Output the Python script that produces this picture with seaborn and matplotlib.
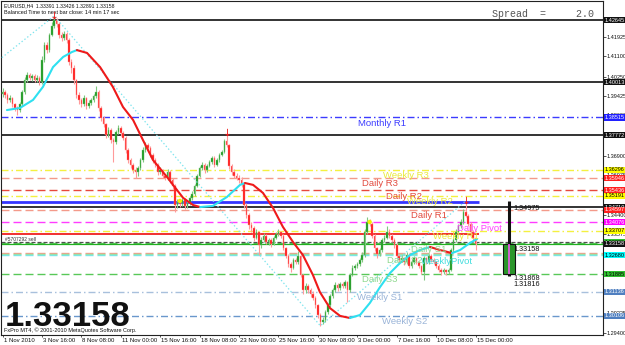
import matplotlib
matplotlib.use("Agg")
import matplotlib.pyplot as plt
import matplotlib.transforms as mtrans
from matplotlib import font_manager
import pandas as pd
import seaborn as sns

# ---------------- data (EURUSD H4, 1 Nov - 15 Dec 2010) ----------------
FIRST_OPEN = 1.3950
closes = [
    1.3960, 1.3947, 1.3926, 1.3934, 1.3909, 1.3892,
    1.3883, 1.3909, 1.3960, 1.4010, 1.4032, 1.4019,
    1.4027, 1.4010, 1.4019, 1.4002, 1.4095, 1.4159,
    1.4137, 1.4201, 1.4239, 1.4264, 1.4248, 1.4201,
    1.4188, 1.4205, 1.4180, 1.4087, 1.4061, 1.4010,
    1.3947, 1.3926, 1.3909, 1.3934, 1.3900, 1.3913,
    1.3926, 1.3943, 1.3960, 1.3892, 1.3849, 1.3824,
    1.3777, 1.3798, 1.3756, 1.3748, 1.3790, 1.3807,
    1.3786, 1.3765, 1.3714, 1.3671, 1.3650, 1.3629,
    1.3621, 1.3638, 1.3671, 1.3714, 1.3735, 1.3722,
    1.3693, 1.3671, 1.3650, 1.3621, 1.3629, 1.3604,
    1.3595, 1.3621, 1.3587, 1.3561, 1.3481, 1.3494,
    1.3485, 1.3502, 1.3477, 1.3489, 1.3510, 1.3527,
    1.3561, 1.3604, 1.3638, 1.3650, 1.3629, 1.3646,
    1.3663, 1.3680, 1.3650, 1.3671, 1.3693, 1.3705,
    1.3750, 1.3735, 1.3646, 1.3621, 1.3604, 1.3595,
    1.3587, 1.3570, 1.3481, 1.3438, 1.3396, 1.3383,
    1.3341, 1.3366, 1.3311, 1.3333, 1.3350, 1.3324,
    1.3333, 1.3316, 1.3341, 1.3358, 1.3366, 1.3350,
    1.3299, 1.3265, 1.3231, 1.3214, 1.3248, 1.3239,
    1.3265, 1.3184, 1.3120, 1.3138, 1.3120, 1.3104,
    1.3087, 1.3057, 1.3015, 1.2985, 1.2994, 1.3028,
    1.3057, 1.3095, 1.3120, 1.3142, 1.3129, 1.3146,
    1.3138, 1.3155, 1.3120, 1.3184, 1.3214, 1.3222,
    1.3231, 1.3248, 1.3269, 1.3366, 1.3409, 1.3400,
    1.3350, 1.3299, 1.3273, 1.3290, 1.3333, 1.3341,
    1.3366, 1.3350, 1.3333, 1.3311, 1.3265, 1.3248,
    1.3256, 1.3239, 1.3269, 1.3222, 1.3239, 1.3256,
    1.3239, 1.3222, 1.3197, 1.3256, 1.3239, 1.3265,
    1.3248, 1.3239, 1.3222, 1.3205, 1.3197, 1.3205,
    1.3197, 1.3205, 1.3290, 1.3333, 1.3366, 1.3392,
    1.3409, 1.3451, 1.3434, 1.3400, 1.3366, 1.33391,
    1.33158,
]
highs = [
    1.3975, 1.3968, 1.3955, 1.3945, 1.3940, 1.3915,
    1.3902, 1.3918, 1.3968, 1.4022, 1.4045, 1.4040,
    1.4035, 1.4036, 1.4030, 1.4028, 1.4110, 1.4172,
    1.4170, 1.4210, 1.4255, 1.4282, 1.4275, 1.4255,
    1.4215, 1.4218, 1.4212, 1.4190, 1.4100, 1.4072,
    1.4015, 1.3960, 1.3935, 1.3945, 1.3940, 1.3925,
    1.3935, 1.3952, 1.3985, 1.3968, 1.3900, 1.3858,
    1.3830, 1.3810, 1.3805, 1.3765, 1.3800, 1.3818,
    1.3815, 1.3795, 1.3772, 1.3722, 1.3680, 1.3660,
    1.3640, 1.3648, 1.3680, 1.3725, 1.3748, 1.3745,
    1.3730, 1.3700, 1.3680, 1.3658, 1.3640, 1.3635,
    1.3612, 1.3632, 1.3628, 1.3595, 1.3568, 1.3505,
    1.3502, 1.3512, 1.3510, 1.3498, 1.3520, 1.3540,
    1.3570, 1.3612, 1.3648, 1.3665, 1.3658, 1.3655,
    1.3672, 1.3690, 1.3688, 1.3680, 1.3702, 1.3715,
    1.3760, 1.3786, 1.3740, 1.3655, 1.3632, 1.3615,
    1.3608, 1.3598, 1.3578, 1.3490, 1.3445, 1.3410,
    1.3392, 1.3378, 1.3372, 1.3345, 1.3362, 1.3358,
    1.3342, 1.3340, 1.3350, 1.3368, 1.3378, 1.3372,
    1.3356, 1.3305, 1.3272, 1.3240, 1.3258, 1.3255,
    1.3285, 1.3270, 1.3190, 1.3150, 1.3148, 1.3130,
    1.3115, 1.3095, 1.3062, 1.3022, 1.3008, 1.3038,
    1.3065, 1.3105, 1.3130, 1.3155, 1.3150, 1.3155,
    1.3155, 1.3165, 1.3160, 1.3192, 1.3225, 1.3232,
    1.3240, 1.3258, 1.3280, 1.3380, 1.3430, 1.3420,
    1.3408, 1.3356, 1.3305, 1.3300, 1.3342, 1.3352,
    1.3390, 1.3378, 1.3358, 1.3340, 1.3318, 1.3272,
    1.3268, 1.3262, 1.3280, 1.3275, 1.3250, 1.3265,
    1.3262, 1.3245, 1.3228, 1.3265, 1.3262, 1.3275,
    1.3272, 1.3258, 1.3245, 1.3230, 1.3212, 1.3215,
    1.3210, 1.3215, 1.3298, 1.3342, 1.3378, 1.3402,
    1.3420, 1.3465, 1.3498, 1.3442, 1.3410, 1.3375,
    1.33426,
]
lows = [
    1.3938, 1.3935, 1.3915, 1.3918, 1.3898, 1.3878,
    1.3862, 1.3875, 1.3900, 1.3952, 1.4000, 1.4010,
    1.4008, 1.4000, 1.4002, 1.3990, 1.3995, 1.4085,
    1.4125, 1.4130, 1.4195, 1.4230, 1.4236, 1.4190,
    1.4175, 1.4180, 1.4168, 1.4075, 1.4040, 1.3995,
    1.3935, 1.3910, 1.3895, 1.3900, 1.3888, 1.3890,
    1.3905, 1.3918, 1.3935, 1.3880, 1.3835, 1.3810,
    1.3765, 1.3770, 1.3745, 1.3665, 1.3740, 1.3782,
    1.3775, 1.3755, 1.3700, 1.3660, 1.3638, 1.3615,
    1.3595, 1.3605, 1.3630, 1.3665, 1.3705, 1.3712,
    1.3685, 1.3660, 1.3640, 1.3610, 1.3612, 1.3595,
    1.3585, 1.3588, 1.3575, 1.3550, 1.3450, 1.3468,
    1.3472, 1.3478, 1.3465, 1.3470, 1.3482, 1.3502,
    1.3520, 1.3555, 1.3598, 1.3630, 1.3618, 1.3622,
    1.3640, 1.3655, 1.3640, 1.3645, 1.3665, 1.3688,
    1.3700, 1.3728, 1.3635, 1.3610, 1.3595, 1.3585,
    1.3575, 1.3558, 1.3470, 1.3425, 1.3380, 1.3365,
    1.3330, 1.3335, 1.3270, 1.3300, 1.3325, 1.3315,
    1.3312, 1.3305, 1.3310, 1.3335, 1.3350, 1.3342,
    1.3290, 1.3255, 1.3220, 1.3198, 1.3208, 1.3230,
    1.3232, 1.3175, 1.3105, 1.3110, 1.3108, 1.3090,
    1.3078, 1.3045, 1.3000, 1.2969, 1.2975, 1.2985,
    1.3020, 1.3050, 1.3088, 1.3112, 1.3118, 1.3122,
    1.3128, 1.3130, 1.3070, 1.3112, 1.3178, 1.3205,
    1.3212, 1.3222, 1.3240, 1.3260, 1.3358, 1.3390,
    1.3340, 1.3288, 1.3255, 1.3265, 1.3282, 1.3325,
    1.3335, 1.3342, 1.3322, 1.3300, 1.3255, 1.3235,
    1.3240, 1.3228, 1.3232, 1.3212, 1.3215, 1.3232,
    1.3230, 1.3212, 1.3188, 1.3163, 1.3230, 1.3232,
    1.3240, 1.3230, 1.3212, 1.3195, 1.3185, 1.3190,
    1.3185, 1.3190, 1.3200, 1.3282, 1.3325, 1.3358,
    1.3385, 1.3402, 1.3428, 1.3390, 1.3355, 1.3330,
    1.32891,
]

# date axis
date_tick_bars = [0, 16, 32, 48, 64, 80, 96, 112, 128, 144, 160, 176, 192]
date_tick_labels = ["1 Nov 2010", "3 Nov 16:00", "8 Nov 08:00", "11 Nov 00:00",
                    "15 Nov 16:00", "18 Nov 08:00", "23 Nov 00:00", "25 Nov 16:00",
                    "30 Nov 08:00", "3 Dec 00:00", "7 Dec 16:00", "10 Dec 08:00",
                    "15 Dec 00:00"]
# price axis
price_tick_labels = ["1.41925", "1.41100", "1.40250", "1.39425", "1.38600", "1.37750",
                     "1.36900", "1.36075", "1.35250", "1.34400", "1.33575", "1.32725",
                     "1.31900", "1.31075", "1.30225", "1.29400"]

# colour-changing moving average (bar index, price)
ma_bar = [1.8, 7.1, 12.4, 16.4, 20.5, 24.6, 28.2, 30.2, 34.3, 39.6, 44.8, 48.9,
          53.0, 57.0, 61.1, 66.8, 69.2, 73.3, 77.3, 80.2, 85.4, 91.1, 96.4, 98.4,
          101.7, 105.7, 109.8, 113.8, 117.9, 121.9, 126.0, 128.8, 132.9, 137.0,
          141.0, 145.1, 149.1, 153.2, 157.3, 161.3, 165.4, 169.4, 173.5, 177.6,
          182.4, 185.7, 189.7, 192.6]
ma_price = [1.3883, 1.3892, 1.3926, 1.3981, 1.4065, 1.4108, 1.4129, 1.4137,
            1.4125, 1.4065, 1.3981, 1.3896, 1.3841, 1.3756, 1.3671, 1.3599,
            1.3566, 1.3511, 1.3481, 1.3472, 1.3477, 1.3515, 1.3566, 1.3574,
            1.3566, 1.3532, 1.3468, 1.3388, 1.3324, 1.3269, 1.3184, 1.3112,
            1.3044, 1.3011, 1.3002, 1.3015, 1.3066, 1.3133, 1.3193, 1.3235,
            1.3269, 1.3290, 1.3303, 1.3290, 1.3277, 1.3290, 1.3320, 1.3337]

# zigzag (dotted cyan)
zz_bar = [-40, 21, 129, 188]
zz_price = [1.3775, 1.4282, 1.2969, 1.3498]

# fractal arrows and yellow dots
fractal_bars = [21, 91, 188]
dot_bar = [72, 149]
dot_price = [1.3498, 1.3409]

# pivot levels
level_names = ["Monthly R1", "Weekly R3", "Daily R3", "Daily R2", "Weekly R2",
               "Daily R1", "Daily Pivot", "Weekly R1", "Daily S1", "Daily S2",
               "WeeklyPivot", "Daily S3", "Weekly S1", "Weekly S2"]
level_prices = [1.38515, 1.36296, 1.35946, 1.35436, 1.35191, 1.34597, 1.34076,
                1.33707, 1.33190, 1.32720, 1.32680, 1.31885, 1.31136, 1.30106]
level_line_colors = ["#3c3cff", "#f4f040", "#f49a8a", "#e8483c", "#f4f040",
                     "#f49a8a", "#ff3cff", "#f4f040", "#58c858", "#9ee09e",
                     "#7ae6e6", "#58c858", "#a8c0dc", "#6a98cc"]
level_text_colors = ["#3c3cff", "#eaea3a", "#e24a3e", "#e24a3e", "#eaea3a",
                     "#e24a3e", "#ff44ff", "#eaea3a", "#8ed88e", "#8ed88e",
                     "#44dede", "#8ed88e", "#9ab4d8", "#9ab4d8"]
level_styles = ["dashdot", "dashdot", "dash", "dash", "dashdot", "dash", "dash",
                "dashdot", "dash", "dash", "dash", "dash", "dashdot", "dashdot"]
level_label_bar = [144.3, 154.4, 145.9, 155.6, 164.2, 165.8, 184.5, 174.7,
                   165.8, 156.1, 169.8, 145.9, 143.9, 154.0]

# other horizontal objects
solid_black_levels = [1.42645, 1.40013, 1.37772, 1.34710]
blue_solid_level = 1.34920
red_solid_level = 1.33580
extra_salmon_level = 1.32763
order_level = 1.33220
bid_level = 1.33158

# right axis price boxes (price, fill, text colour)
box_prices = [1.42645, 1.40013, 1.38515, 1.37772, 1.36296, 1.35946, 1.35436,
              1.35191, 1.34710, 1.34597, 1.34076, 1.33707, 1.33220, 1.33158,
              1.32680, 1.31885, 1.31136, 1.30106]
box_fill = ["#111111", "#111111", "#2020ff", "#111111", "#ffff00", "#ff2020",
            "#ff2020", "#ffff00", "#111111", "#ff2020", "#ff00ff", "#ffff00",
            "#30c030", "#111111", "#00ffff", "#30c030", "#4f7fc0", "#4f7fc0"]
box_text = ["white", "white", "white", "white", "black", "white", "white",
            "black", "white", "white", "white", "black", "black", "white",
            "black", "black", "white", "white"]

# weekly candle (open, high, low, close)
week_ohlc = [1.31868, 1.34975, 1.31816, 1.33158]

# ---------------- plotting ----------------
sns.set_theme(style="white")
plt.rcParams["font.family"] = ["Liberation Sans", "DejaVu Sans"]
plt.rcParams["lines.scale_dashes"] = False

avail = {f.name for f in font_manager.fontManager.ttflist}
big_family = "Liberation Sans Narrow" if "Liberation Sans Narrow" in avail else "Liberation Sans"
big_size = 28 if big_family == "Liberation Sans Narrow" else 25

PX = 0.72  # points per pixel at 100 dpi
DASH = (0, (8 * PX, 4 * PX))
DASHDOT = (0, (7 * PX, 3 * PX, 1.5 * PX, 3 * PX))

fig = plt.figure(figsize=(6.25, 3.45), dpi=100)
fig.patch.set_facecolor("white")
ax = fig.add_axes([1 / 625, 10 / 345, 602 / 625, 334 / 345])
ax.set_facecolor("white")

n = len(closes)
opens = [FIRST_OPEN] + closes[:-1]
df = pd.DataFrame({"bar": range(n), "open": opens, "high": highs,
                   "low": lows, "close": closes})
df["bull"] = df["close"] >= df["open"]

# horizontal levels
for p in solid_black_levels:
    ax.axhline(p, color="#111111", lw=1.2, zorder=2)
ax.hlines(blue_solid_level, -1, 193.5, color="#3434ff", lw=2.0, zorder=2)
ax.hlines(red_solid_level, -1, 193.5, color="#f02020", lw=1.3, zorder=2)
ax.axhline(extra_salmon_level, color="#f49a8a", lw=1.0, ls=DASH, zorder=2)
for p, c, s in zip(level_prices, level_line_colors, level_styles):
    ax.axhline(p, color=c, lw=1.0, ls=DASH if s == "dash" else DASHDOT, zorder=2)
ax.axhline(bid_level, color="#20b020", lw=0.9, zorder=2)
ax.axhline(order_level, color="#505050", lw=0.9, ls=(0, (4 * PX, 2 * PX)), zorder=2)

# candles
wick_c = ["#80c880" if b else "#ff9a9a" for b in df["bull"]]
body_c = ["#16961a" if b else "#ff1010" for b in df["bull"]]
ax.vlines(df["bar"], df["low"], df["high"], colors=wick_c, lw=0.8, zorder=3)
body_h = (df["close"] - df["open"]).abs().clip(lower=0.00008)
body_b = df[["open", "close"]].min(axis=1)
ax.bar(df["bar"], body_h, bottom=body_b, width=0.62, color=body_c,
       edgecolor=wick_c, linewidth=0.3, zorder=4)

# zigzag
sns.lineplot(x=zz_bar, y=zz_price, ax=ax, color="#7ee4ee", lw=0.9,
             linestyle=(0, (1.0, 1.6)), sort=False, estimator=None, zorder=5)

# colour-changing MA, split into rising / falling runs
runs = []
cur = [0]
cur_up = ma_price[1] >= ma_price[0]
for i in range(1, len(ma_bar)):
    up = ma_price[i] >= ma_price[i - 1]
    if up != cur_up:
        runs.append((cur, cur_up))
        cur = [i - 1]
        cur_up = up
    cur.append(i)
runs.append((cur, cur_up))
for idx, up in runs:
    sns.lineplot(x=[ma_bar[k] for k in idx], y=[ma_price[k] for k in idx], ax=ax,
                 color="#2ee0f0" if up else "#ee1a1a", lw=1.5, sort=False,
                 estimator=None, zorder=6)

# fractal arrows, dots
ax.scatter(fractal_bars, [highs[b] + 0.0004 for b in fractal_bars], marker=r"$\downarrow$",
           s=28, color="#ee1111", zorder=7, linewidths=0)
sns.scatterplot(x=dot_bar, y=dot_price, ax=ax, color="#f4f000", s=10,
                edgecolor="none", zorder=7)

# pivot labels
for name, p, c, bx in zip(level_names, level_prices, level_text_colors, level_label_bar):
    ax.annotate(name, (bx, p), xytext=(0, -4.2), textcoords="offset points",
                ha="left", va="center", fontsize=6.8, color=c, zorder=8)

# weekly candle
wx = 205.6
wo, wh, wl, wc = week_ohlc
ax.vlines(wx, wc, wh, color="#111111", lw=2.2, zorder=9)
ax.vlines(wx, wl, wo, color="#111111", lw=2.2, zorder=9)
ax.bar([wx], [wc - wo], bottom=[wo], width=5.0, color="#2a962a",
       edgecolor="#111111", linewidth=0.8, zorder=9)
ax.vlines(wx, wo, wc, color="#ff55ff", lw=1.1, zorder=10)
for val, dy in zip([wh, wc, wo, wl], [-2.5, -1.5, -0.5, -4.0]):
    ax.annotate(f"{val:.5f}", (207.2, val), xytext=(0, dy), textcoords="offset points",
                ha="left", va="top", fontsize=5.2, color="#111111", zorder=8)

# order label
ax.annotate("#5707292 sell", (1.0, order_level), xytext=(0, 0.3), textcoords="offset points",
            ha="left", va="bottom", fontsize=3.5, color="#333333", zorder=8)

# axes scales
ax.set_xlim(-0.61, 243.7)
ax.set_ylim(1.29301, 1.43450)
ax.yaxis.tick_right()
ax.set_yticks([float(s) for s in price_tick_labels])
ax.set_yticklabels(price_tick_labels)
ax.set_xticks(date_tick_bars)
ax.set_xticklabels(date_tick_labels, ha="left")
ax.tick_params(axis="y", labelsize=4.0, length=1.8, width=0.5, pad=0.6, colors="#111111",
               right=True, left=False)
ax.tick_params(axis="x", labelsize=4.3, length=1.5, width=0.5, pad=0.5, colors="#111111",
               bottom=True)
for lab in ax.get_xticklabels():
    lab.set_transform(lab.get_transform() + mtrans.ScaledTranslation(1 / 100, 0, fig.dpi_scale_trans))
ax.set_xlabel("")
ax.set_ylabel("")
ax.grid(False)
for sp in ax.spines.values():
    sp.set_color("#222222")
    sp.set_linewidth(0.8)

# price boxes on right axis
btrans = mtrans.blended_transform_factory(ax.transAxes, ax.transData)
for p, fc, tc in zip(box_prices, box_fill, box_text):
    ax.text(1.0 + 1.5 / 602, p, f"{p:.5f}", transform=btrans, fontsize=4.0, ha="left",
            va="center", color=tc, clip_on=False, zorder=20,
            bbox=dict(boxstyle="square,pad=0.12", fc=fc, ec="none"))

# texts
ax.text(3 / 602, (335 - 6) / 334, "EURUSD,H4  1.33391 1.33426 1.32891 1.33158",
        transform=ax.transAxes, fontsize=3.7, ha="left", va="center", color="#111111")
ax.text(3 / 602, (335 - 13) / 334, "Balanced Time to next bar close: 14 min 17 sec",
        transform=ax.transAxes, fontsize=4.0, ha="left", va="center", color="#111111")
ax.text((492 - 1) / 602, (335 - 14) / 334, "Spread  =     2.0", transform=ax.transAxes,
        fontsize=7.2, family="Liberation Mono", ha="left", va="center", color="#555555")
ax.text(4 / 602, (335 - 325.5) / 334, "1.33158", transform=ax.transAxes,
        fontsize=big_size, family=big_family, weight="bold", ha="left", va="baseline",
        color="#111111", zorder=12)
ax.text(3 / 602, (335 - 330.5) / 334, "FxPro MT4, \u00a9 2001-2010 MetaQuotes Software Corp.",
        transform=ax.transAxes, fontsize=4.0, ha="left", va="center", color="#111111",
        zorder=12)

fig.savefig("out.png", dpi=100, facecolor="white")
